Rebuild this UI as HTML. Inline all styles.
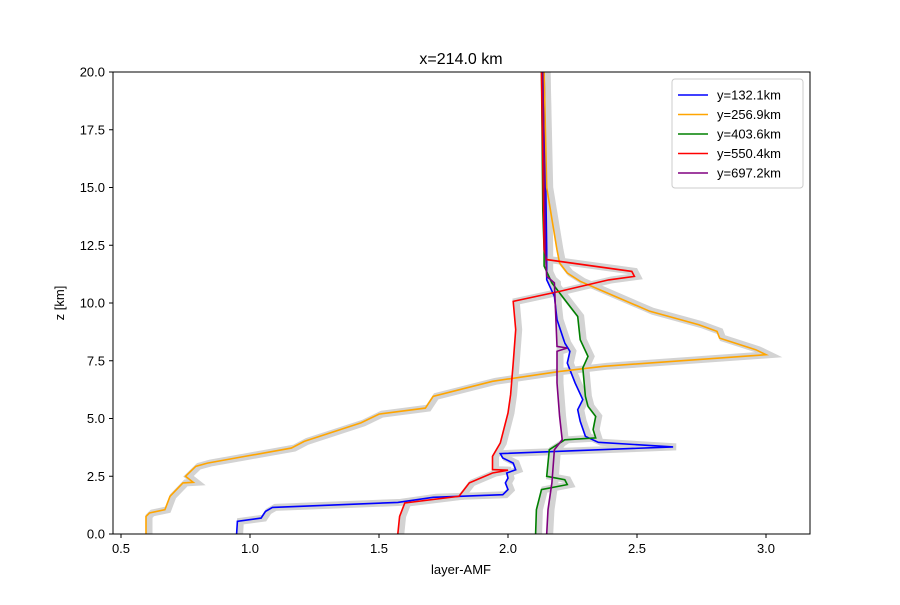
<!DOCTYPE html>
<html><head><meta charset="utf-8"><style>
body{margin:0;background:#fff;font-family:"Liberation Sans",sans-serif}
svg text{font-family:"Liberation Sans",sans-serif}
</style></head><body>
<svg id="chart" width="900" height="600" xmlns="http://www.w3.org/2000/svg">
<rect width="900" height="600" fill="#fff"/>
<text x="461" y="64" font-size="16" text-anchor="middle">x=214.0 km</text>
<g id="bands"></g><g id="lines"></g>
<rect x="113" y="72" width="697" height="462" fill="none" stroke="#000" stroke-width="1"/>
<g id="axes"></g>
<text x="461" y="574" font-size="13" text-anchor="middle">layer-AMF</text>
<text transform="translate(64,303) rotate(-90)" font-size="13" text-anchor="middle">z [km]</text>
<g id="legend"></g>
</svg>
<script>
const xTicks=[0.5,1.0,1.5,2.0,2.5,3.0];
const yTicks=[0,2.5,5,7.5,10,12.5,15,17.5,20];
const seriesNames=["y=132.1km","y=256.9km","y=403.6km","y=550.4km","y=697.2km"];
const seriesColors=["blue","orange","green","red","purple"];
const blueAmf=[0.948,0.951,1.043,1.06,1.087,1.573,1.71,1.98,2.0,1.99,2.0,1.995,2.03,2.02,1.98,1.97,2.64,2.35,2.30,2.28,2.27,2.29,2.26,2.23,2.24,2.22,2.19,2.18,2.15,2.15,2.14];
const blueZ=[0,0.55,0.69,0.98,1.15,1.37,1.59,1.70,1.92,2.21,2.42,2.64,2.78,3.07,3.29,3.48,3.77,3.97,4.23,4.88,5.38,5.82,6.54,7.40,7.91,8.27,9.28,10.29,11.01,12.3,20];
const orangeAmf=[0.597,0.597,0.61,0.67,0.69,0.74,0.78,0.75,0.79,0.835,0.98,1.16,1.21,1.43,1.50,1.68,1.71,1.94,2.20,2.37,3.0,2.96,2.82,2.81,2.74,2.55,2.37,2.28,2.23,2.20,2.19,2.15,2.14];
const orangeZ=[0,0.76,0.91,1.05,1.63,2.21,2.24,2.50,2.93,3.07,3.36,3.72,4.01,4.81,5.19,5.45,5.96,6.61,7.04,7.26,7.76,7.98,8.48,8.77,9.06,9.64,10.5,10.94,11.3,11.73,12.3,15,20];
const greenAmf=[2.107,2.11,2.13,2.23,2.22,2.15,2.16,2.22,2.34,2.33,2.34,2.31,2.30,2.29,2.31,2.28,2.27,2.23,2.17,2.14,2.14,2.135,2.13];
const greenZ=[0,1.05,1.92,2.14,2.35,2.50,3.65,4.08,4.16,4.52,5.09,5.53,5.96,7.19,7.69,8.41,9.42,10.0,10.87,11.6,12.3,14,20];
const redAmf=[1.573,1.58,1.60,1.81,1.85,1.94,2.00,1.94,1.94,1.97,2.0,2.01,2.02,2.03,2.02,2.20,2.39,2.49,2.48,2.15,2.14,2.13];
const redZ=[0,0.76,1.34,1.63,2.21,2.64,2.76,2.79,3.36,3.94,5.24,6.03,7.40,8.85,10.07,10.5,11.0,11.15,11.37,11.88,12.3,20];
const purpleAmf=[2.15,2.155,2.17,2.18,2.21,2.20,2.19,2.19,2.23,2.19,2.18,2.15,2.145,2.135];
const purpleZ=[0,1.05,2.21,3.65,4.08,5.09,6.54,7.91,8.05,8.12,10.87,11.15,12.3,20];
const X=v=>121+(v-0.5)*258, Y=v=>534-v*23.1;
const NS="http://www.w3.org/2000/svg";
const allAmf=[blueAmf,orangeAmf,greenAmf,redAmf,purpleAmf], allZ=[blueZ,orangeZ,greenZ,redZ,purpleZ];
const bands=document.getElementById('bands'), lines=document.getElementById('lines');
allAmf.forEach((a,i)=>{
  const d=a.map((v,k)=>(k?'L':'M')+X(v).toFixed(1)+','+Y(allZ[i][k]).toFixed(1)).join(' ');
  const b=document.createElementNS(NS,'path');
  b.setAttribute('d',d);b.setAttribute('fill','none');b.setAttribute('stroke','#d3d3d3');b.setAttribute('stroke-width','7');b.setAttribute('transform','translate(3,0)');
  
  
  bands.appendChild(b);
  const p=document.createElementNS(NS,'path');
  p.setAttribute('d',d);p.setAttribute('fill','none');p.setAttribute('stroke',seriesColors[i]);p.setAttribute('stroke-width','1.6');
  
  
  lines.appendChild(p);
});
const axes=document.getElementById('axes');
xTicks.forEach(t=>{
  const l=document.createElementNS(NS,'line');
  l.setAttribute('x1',X(t));l.setAttribute('x2',X(t));l.setAttribute('y1',534);l.setAttribute('y2',538);l.setAttribute('stroke','#000');
  
  
  axes.appendChild(l);
  const tx=document.createElementNS(NS,'text');
  tx.setAttribute('x',X(t));tx.setAttribute('y',553);tx.setAttribute('font-size','13');tx.setAttribute('text-anchor','middle');tx.textContent=t.toFixed(1);
  
  
  axes.appendChild(tx);
});
yTicks.forEach(t=>{
  const l=document.createElementNS(NS,'line');
  l.setAttribute('x1',109);l.setAttribute('x2',113);l.setAttribute('y1',Y(t));l.setAttribute('y2',Y(t));l.setAttribute('stroke','#000');
  
  
  axes.appendChild(l);
  const tx=document.createElementNS(NS,'text');
  tx.setAttribute('x',105);tx.setAttribute('y',Y(t)+4.5);tx.setAttribute('font-size','13');tx.setAttribute('text-anchor','end');tx.textContent=t.toFixed(1);
  
  
  axes.appendChild(tx);
});
const lg=document.getElementById('legend');
const box=document.createElementNS(NS,'rect');
box.setAttribute('x',672);box.setAttribute('y',79);box.setAttribute('width',131);box.setAttribute('height',109);box.setAttribute('rx',3);box.setAttribute('fill','#fff');box.setAttribute('stroke','#ccc');


lg.appendChild(box);
seriesNames.forEach((n,i)=>{
  const y=95+i*19.5;
  const l=document.createElementNS(NS,'line');
  l.setAttribute('x1',678);l.setAttribute('x2',708);l.setAttribute('y1',y);l.setAttribute('y2',y);l.setAttribute('stroke',seriesColors[i]);l.setAttribute('stroke-width','1.6');
  
  
  lg.appendChild(l);
  const tx=document.createElementNS(NS,'text');
  tx.setAttribute('x',717);tx.setAttribute('y',y+4.5);tx.setAttribute('font-size','13');tx.textContent=n;
  
  
  lg.appendChild(tx);
});
</script>
</body></html>
